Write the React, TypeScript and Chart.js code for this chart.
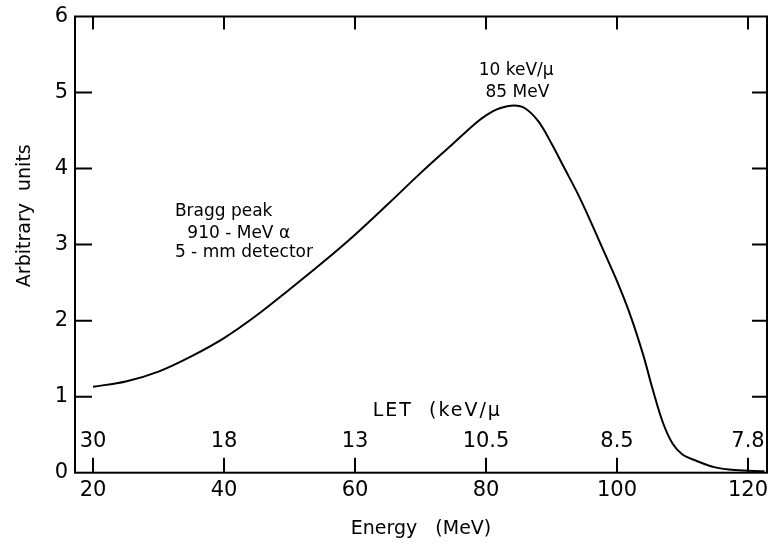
import React, { useEffect, useRef } from "react";
import { Chart, registerables } from "chart.js";

Chart.register(...registerables);

// Curve
const energyMeV = [20, 25, 30, 35, 40, 45, 50, 55, 60, 65, 70, 75, 78.2, 80, 82, 84.3, 86, 88, 90, 92, 94, 96, 98, 100, 102, 104, 105.5, 107, 108.5, 110, 112, 115, 118, 122.5];
const arbitraryUnits = [1.13, 1.2, 1.33, 1.53, 1.77, 2.07, 2.41, 2.76, 3.13, 3.53, 3.94, 4.33, 4.58, 4.7, 4.79, 4.83, 4.79, 4.62, 4.33, 4.0, 3.67, 3.3, 2.91, 2.52, 2.08, 1.55, 1.08, 0.66, 0.38, 0.24, 0.16, 0.07, 0.035, 0.02];

// Axes
const energyTicks = [20, 40, 60, 80, 100, 120];
const letTickLabels = ["30", "18", "13", "10.5", "8.5", "7.8"];
const unitTicks = [0, 1, 2, 3, 4, 5, 6];
const xMin = 17.25;
const xMax = 122.9;
const yMin = 0;
const yMax = 6;

const FONT = "'DejaVu Sans', sans-serif";

export default function App() {
  const canvasRef = useRef<HTMLCanvasElement | null>(null);

  useEffect(() => {
    document.body.style.margin = "0";
    const canvas = canvasRef.current;
    if (!canvas) return;

    const framePlugin = {
      id: "framePlugin",
      afterDraw(chart: any) {
        const { ctx, chartArea } = chart;
        const xs = chart.scales.x;
        const ys = chart.scales.y;
        const { left, right, top, bottom } = chartArea;
        ctx.save();
        ctx.strokeStyle = "#000";
        ctx.lineWidth = 2;
        ctx.strokeRect(left, top, right - left, bottom - top);
        ctx.beginPath();
        for (const v of energyTicks) {
          const px = xs.getPixelForValue(v);
          ctx.moveTo(px, bottom);
          ctx.lineTo(px, bottom - 15);
          ctx.moveTo(px, top);
          ctx.lineTo(px, top + 13);
        }
        for (const v of unitTicks) {
          if (v === yMin || v === yMax) continue;
          const py = ys.getPixelForValue(v);
          ctx.moveTo(left, py);
          ctx.lineTo(left + 17, py);
          ctx.moveTo(right, py);
          ctx.lineTo(right - 15, py);
        }
        ctx.stroke();

        ctx.fillStyle = "#000";
        ctx.textBaseline = "middle";
        // LET labels
        ctx.font = `21px ${FONT}`;
        ctx.textAlign = "center";
        energyTicks.forEach((v, i) => {
          ctx.fillText(letTickLabels[i], xs.getPixelForValue(v), ys.getPixelForValue(0.41));
        });
        ctx.font = `19px ${FONT}`;
        ctx.textAlign = "left";
        (ctx as any).letterSpacing = "2px";
        ctx.fillText("LET  (keV/μ", xs.getPixelForValue(62.7), ys.getPixelForValue(0.81));
        (ctx as any).letterSpacing = "0px";

        // Peak annotation
        ctx.font = `17px ${FONT}`;
        ctx.textAlign = "center";
        ctx.fillText("10 keV/μ", xs.getPixelForValue(84.6), ys.getPixelForValue(5.29));
        ctx.fillText("85 MeV", xs.getPixelForValue(84.8), ys.getPixelForValue(5.0));

        // Bragg peak annotation
        ctx.textAlign = "left";
        ctx.fillText("Bragg peak", xs.getPixelForValue(32.5), ys.getPixelForValue(3.44));
        ctx.fillText("910 - MeV α", xs.getPixelForValue(34.4), ys.getPixelForValue(3.15));
        ctx.fillText("5 - mm detector", xs.getPixelForValue(32.5), ys.getPixelForValue(2.9));

        // Y axis title
        ctx.font = `19px ${FONT}`;
        ctx.translate(25, ys.getPixelForValue(3.38));
        ctx.rotate(-Math.PI / 2);
        ctx.textAlign = "center";
        ctx.fillText("Arbitrary  units", 0, 0);
        ctx.restore();
      },
    };

    const chart = new Chart(canvas, {
      type: "line",
      data: {
        datasets: [
          {
            data: energyMeV.map((e, i) => ({ x: e, y: arbitraryUnits[i] })),
            borderColor: "#000",
            borderWidth: 2,
            pointRadius: 0,
            fill: false,
            tension: 0.35,
          },
        ],
      },
      options: {
        responsive: false,
        animation: false,
        events: [],
        layout: { padding: { top: 16.5, right: 12, left: 0, bottom: 0 } },
        plugins: { legend: { display: false }, tooltip: { enabled: false } },
        scales: {
          x: {
            type: "linear",
            position: "bottom",
            min: xMin,
            max: xMax,
            afterBuildTicks: (scale: any) => {
              scale.ticks = energyTicks.map((v) => ({ value: v }));
            },
            afterFit: (scale: any) => {
              scale.height = 546 - 472.7;
              scale.paddingLeft = 0;
              scale.paddingRight = 0;
            },
            ticks: {
              color: "#000",
              font: { family: FONT, size: 21 },
              padding: 5,
              maxRotation: 0,
              autoSkip: false,
            },
            grid: { display: false, drawTicks: false },
            border: { display: false },
            title: {
              display: true,
              text: "Energy   (MeV)",
              color: "#000",
              font: { family: FONT, size: 19 },
              padding: { top: 0, bottom: 6 },
            },
          },
          y: {
            type: "linear",
            position: "left",
            min: yMin,
            max: yMax,
            afterBuildTicks: (scale: any) => {
              scale.ticks = unitTicks.map((v) => ({ value: v }));
            },
            afterFit: (scale: any) => {
              scale.width = 75;
              scale.paddingTop = 0;
              scale.paddingBottom = 0;
            },
            ticks: {
              color: "#000",
              font: { family: FONT, size: 21 },
              padding: 7,
            },
            grid: { display: false, drawTicks: false },
            border: { display: false },
          },
        },
      },
      plugins: [framePlugin],
    } as any);

    return () => chart.destroy();
  }, []);

  return (
    <div style={{ width: 779, height: 546, background: "#fff" }}>
      <canvas ref={canvasRef} width={779} height={546} />
    </div>
  );
}
